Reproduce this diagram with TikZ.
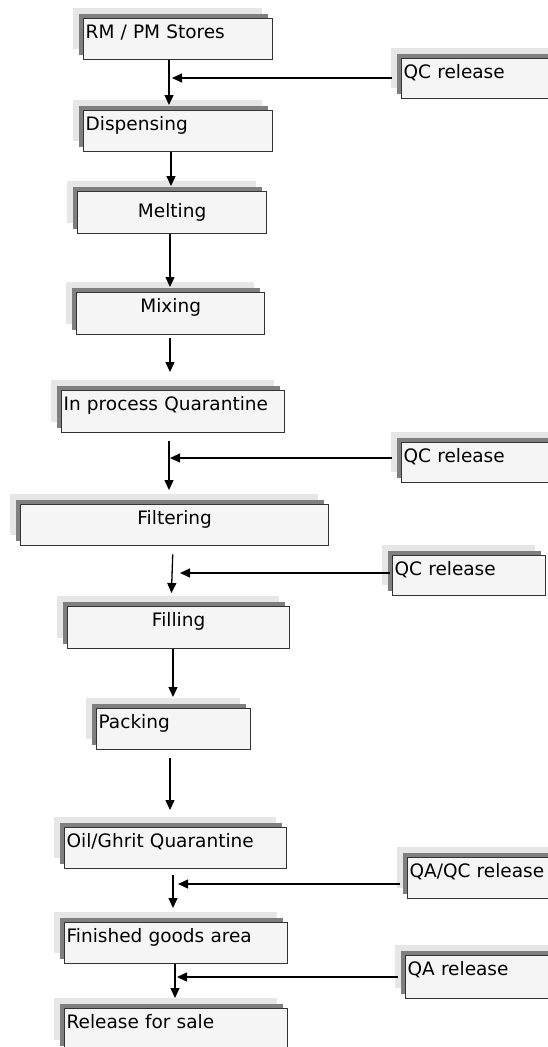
\documentclass[tikz,border=0pt]{standalone}
\usepackage{fontspec}
\setmainfont{DejaVu Sans}
\usetikzlibrary{arrows.meta,shadows}
\definecolor{boxline}{HTML}{333333}
\definecolor{boxfill}{HTML}{F5F5F5}
\definecolor{shadowlight}{HTML}{E6E6E6}
\definecolor{shadowdark}{HTML}{7F7F7F}
\tikzset{
  box/.style={draw=boxline, line width=1.3pt, fill=boxfill, inner xsep=2pt, inner ysep=0pt,
    anchor=north west, font=\fontsize{18.5}{20}\selectfont,
    general shadow={fill=shadowlight, draw=none, shadow xshift=-11pt, shadow yshift=11pt},
    general shadow={fill=shadowdark, draw=none, shadow xshift=-5pt, shadow yshift=5pt}},
  arr/.style={line width=1.3pt, draw=black, -{Triangle[length=10pt,width=9pt]}},
  feed/.style={line width=1.3pt, draw=black, -{Triangle[length=10pt,width=9pt]}}
}
\newcommand\mkbox[8]{%
  \pgfmathsetmacro\mbw{#4-#2-4}\pgfmathsetmacro\mbd{#5-#3-#7}%
  \node[box, align=#6, text width=\mbw pt, text height=#7pt, text depth=\mbd pt] (#1) at (#2,#3) {#8};}
\begin{document}
\begin{tikzpicture}[x=1pt,y=-1pt]
\path[use as bounding box, fill=white] (0,0) rectangle (548,1047);
\clip (0,0) rectangle (548,1047);
% boxes
\mkbox{rm}{83}{18}{272}{59}{left}{19.5}{RM / PM Stores}
\mkbox{qca}{401}{58}{562}{98}{left}{19.5}{QC release}
\mkbox{disp}{83}{110}{272}{151}{left}{19.5}{Dispensing}
\mkbox{melt}{77}{191}{266}{233}{center}{26}{Melting}
\mkbox{mix}{76}{292}{264}{334}{center}{19.5}{Mixing}
\mkbox{inq}{61}{390}{284}{432}{left}{19.5}{In process Quarantine}
\mkbox{qcb}{401}{442}{562}{482}{left}{19.5}{QC release}
\mkbox{filt}{20}{504}{328}{545}{center}{19.5}{Filtering}
\mkbox{qcc}{392}{555}{545}{595}{left}{19.5}{QC release}
\mkbox{fill}{67}{606}{289}{648}{center}{19.5}{Filling}
\mkbox{pack}{96}{708}{250}{749}{left}{19.5}{Packing}
\mkbox{oil}{64}{827}{286}{868}{left}{19.5}{Oil/Ghrit Quarantine}
\mkbox{qaqc}{407}{857}{562}{898}{left}{19.5}{QA/QC release}
\mkbox{fin}{64}{922}{287}{963}{left}{19.5}{Finished goods area}
\mkbox{qa}{405}{955}{562}{998}{left}{19.5}{QA release}
\mkbox{rel}{64}{1008}{287}{1050}{left}{19.5}{Release for sale}
% junction points of the side feeds
\coordinate (ja) at (172,78);
\coordinate (jb) at (170,458);
\coordinate (jc) at (180,573);
\coordinate (jd) at (178,884);
\coordinate (je) at (177,977);
% main flow
\draw[arr, shorten >=5pt] (rm.south -| 169,0) -- (disp.north -| 169,0);
\draw[arr, shorten >=5pt] (disp.south -| 171,0) -- (melt.north -| 171,0);
\draw[arr, shorten >=5pt] (melt.south -| 170,0) -- (mix.north -| 170,0);
\draw[arr, shorten <=3pt, shorten >=18pt] (mix.south -| 170,0) -- (inq.north -| 170,0);
\draw[arr, shorten <=8pt, shorten >=14pt] (inq.south -| 169,0) -- (filt.north -| 169,0);
\draw[arr, shorten <=8pt, shorten >=13pt] (filt.south -| 173,0) -- (fill.north -| 171,0);
\draw[arr, shorten >=11pt] (fill.south -| 173,0) -- (pack.north -| 173,0);
\draw[arr, shorten <=8pt, shorten >=17pt] (pack.south -| 170,0) -- (oil.north -| 170,0);
\draw[arr, shorten <=6pt, shorten >=14pt] (oil.south -| 173,0) -- (fin.north -| 173,0);
\draw[arr, shorten >=10pt] (fin.south -| 175,0) -- (rel.north -| 175,0);
% side feeds
\draw[feed, shorten <=9pt] (qca.west |- ja) -- (ja);
\draw[feed, shorten <=9pt] (qcb.west |- jb) -- (jb);
\draw[feed, shorten <=2pt] (qcc.west |- jc) -- (jc);
\draw[feed, shorten <=7pt] (qaqc.west |- jd) -- (jd);
\draw[feed, shorten <=7pt] (qa.west |- je) -- (je);
\end{tikzpicture}
\end{document}
